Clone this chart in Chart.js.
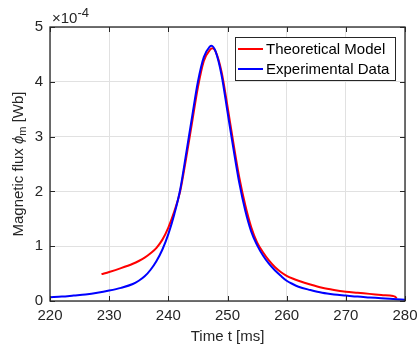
<!DOCTYPE html>
<html>
<head>
<meta charset="utf-8">
<script src="https://cdn.jsdelivr.net/npm/chart.js@4"></script>
<style>
  html, body { margin: 0; padding: 0; background: #fff; }
  #wrap { width: 417px; height: 349px; }
</style>
</head>
<body>
<div id="wrap"><canvas id="c" width="417" height="349"></canvas></div>
<script>
// values in units of 1e-4 Wb
const expTime = [220, 222, 224, 226, 228, 230, 232, 234, 235, 236, 237, 238, 239, 240, 241, 242, 243, 244, 245, 246, 247, 247.3, 248, 249, 250, 251, 252, 253, 254, 255, 256, 257, 258, 259, 260, 261, 262, 264, 266, 268, 270, 272, 274, 276, 278, 280];
const expFlux = [0.07, 0.08, 0.10, 0.12, 0.15, 0.19, 0.24, 0.31, 0.37, 0.45, 0.57, 0.73, 0.94, 1.22, 1.58, 2.03, 2.68, 3.35, 4.00, 4.45, 4.64, 4.66, 4.55, 4.12, 3.45, 2.78, 2.15, 1.65, 1.27, 1.02, 0.83, 0.68, 0.56, 0.46, 0.37, 0.31, 0.26, 0.20, 0.15, 0.12, 0.10, 0.08, 0.065, 0.05, 0.035, 0.025];

const modelTime = [228.7, 230, 232, 234, 235, 236, 237, 238, 239, 240, 241, 242, 243, 244, 245, 246, 247, 247.5, 248, 249, 250, 251, 252, 253, 254, 255, 256, 257, 258, 259, 260, 261, 262, 264, 266, 268, 270, 272, 274, 276, 278, 278.3, 278.6];
const modelFlux = [0.49, 0.53, 0.60, 0.68, 0.73, 0.79, 0.87, 0.97, 1.12, 1.34, 1.63, 2.00, 2.60, 3.25, 3.90, 4.38, 4.58, 4.61, 4.55, 4.18, 3.55, 2.88, 2.25, 1.75, 1.35, 1.07, 0.89, 0.74, 0.62, 0.53, 0.46, 0.41, 0.37, 0.30, 0.24, 0.20, 0.17, 0.15, 0.13, 0.11, 0.09, 0.08, 0.05];

const xTicks = [220, 230, 240, 250, 260, 270, 280];
const yTicks = [0, 1, 2, 3, 4, 5];

const FONT = '"Liberation Sans", Arial, Helvetica, sans-serif';
const INK = '#262626';

const pairs = (xs, ys) => xs.map((x, i) => ({ x: x, y: ys[i] }));

// MATLAB style frame, inward ticks, axis titles, exponent and legend
const matlabAxes = {
    id: 'matlabAxes',
    afterDraw(chart) {
        const ctx = chart.ctx;
        const a = chart.chartArea;
        const xs = chart.scales.x, ys = chart.scales.y;
        ctx.save();
        ctx.strokeStyle = INK;
        ctx.lineWidth = 1.3;
        ctx.strokeRect(a.left, a.top, a.right - a.left, a.bottom - a.top);
        ctx.lineWidth = 1;
        const tl = 5;
        xTicks.forEach(v => {
            const px = Math.round(xs.getPixelForValue(v)) + 0.5;
            ctx.beginPath();
            ctx.moveTo(px, a.bottom); ctx.lineTo(px, a.bottom - tl);
            ctx.moveTo(px, a.top); ctx.lineTo(px, a.top + tl);
            ctx.stroke();
        });
        yTicks.forEach(v => {
            const py = Math.round(ys.getPixelForValue(v)) + 0.5;
            ctx.beginPath();
            ctx.moveTo(a.left, py); ctx.lineTo(a.left + tl, py);
            ctx.moveTo(a.right, py); ctx.lineTo(a.right - tl, py);
            ctx.stroke();
        });

        ctx.fillStyle = INK;
        // x title
        ctx.font = '15px ' + FONT;
        ctx.textAlign = 'center';
        ctx.textBaseline = 'middle';
        ctx.fillText('Time t [ms]', (a.left + a.right) / 2, 337);

        // y title with italic phi and subscript m
        ctx.save();
        ctx.translate(18, (a.top + a.bottom) / 2);
        ctx.rotate(-Math.PI / 2);
        const p1 = 'Magnetic flux ', p2 = '\u03d5', p3 = 'm', p4 = ' [Wb]';
        ctx.font = '15px ' + FONT;
        const w1 = ctx.measureText(p1).width, w4 = ctx.measureText(p4).width;
        ctx.font = 'italic 15px ' + FONT;
        const w2 = ctx.measureText(p2).width;
        ctx.font = '11px ' + FONT;
        const w3 = ctx.measureText(p3).width;
        let x = -(w1 + w2 + w3 + w4) / 2;
        ctx.textAlign = 'left';
        ctx.textBaseline = 'alphabetic';
        ctx.font = '15px ' + FONT; ctx.fillText(p1, x, 5); x += w1;
        ctx.font = 'italic 15px ' + FONT; ctx.fillText(p2, x, 5); x += w2;
        ctx.font = '11px ' + FONT; ctx.fillText(p3, x, 8); x += w3;
        ctx.font = '15px ' + FONT; ctx.fillText(p4, x, 5);
        ctx.restore();

        // exponent
        ctx.textAlign = 'left';
        ctx.textBaseline = 'alphabetic';
        ctx.font = '15px ' + FONT;
        ctx.fillText('\u00d710', 52, 23);
        const wx = ctx.measureText('\u00d710').width;
        ctx.font = '13px ' + FONT;
        ctx.fillText('-4', 52 + wx, 17);

        // legend
        const bx = 235, by = 37, bw = 160, bh = 43;
        ctx.fillStyle = '#fff';
        ctx.fillRect(bx, by, bw, bh);
        ctx.strokeStyle = INK;
        ctx.lineWidth = 1;
        ctx.strokeRect(bx + 0.5, by + 0.5, bw, bh);
        const items = [chart.data.datasets[1], chart.data.datasets[0]];
        items.forEach((ds, i) => {
            const ly = 49 + i * 20;
            ctx.strokeStyle = ds.borderColor;
            ctx.lineWidth = 2;
            ctx.beginPath();
            ctx.moveTo(238, ly); ctx.lineTo(263, ly);
            ctx.stroke();
            ctx.fillStyle = '#000';
            ctx.font = '15px ' + FONT;
            ctx.textBaseline = 'middle';
            ctx.fillText(ds.label, 266, ly + 1);
        });
        ctx.restore();
    }
};

new Chart(document.getElementById('c'), {
    type: 'line',
    data: {
        datasets: [{
            label: 'Experimental Data',
            data: pairs(expTime, expFlux),
            borderColor: '#0000ff',
            borderWidth: 2,
            pointRadius: 0,
            fill: false,
            cubicInterpolationMode: 'monotone'
        }, {
            label: 'Theoretical Model',
            data: pairs(modelTime, modelFlux),
            borderColor: '#ff0000',
            borderWidth: 2,
            pointRadius: 0,
            fill: false,
            cubicInterpolationMode: 'monotone'
        }]
    },
    options: {
        responsive: false,
        animation: false,
        events: [],
        layout: { padding: { left: 0, top: 27, right: 12, bottom: 0 } },
        plugins: { legend: { display: false }, tooltip: { enabled: false } },
        scales: {
            x: {
                type: 'linear',
                min: 220, max: 280,
                afterBuildTicks: s => { s.ticks = xTicks.map(v => ({ value: v })); },
                afterFit: s => { s.height = 48; s.paddingLeft = 0; s.paddingRight = 0; },
                ticks: { color: INK, font: { family: FONT, size: 15 }, padding: 6, maxRotation: 0 },
                grid: { color: '#e1e1e1', drawTicks: false },
                border: { display: false }
            },
            y: {
                type: 'linear',
                min: 0, max: 5,
                afterBuildTicks: s => { s.ticks = yTicks.map(v => ({ value: v })); },
                afterFit: s => { s.width = 50; s.paddingTop = 0; s.paddingBottom = 0; },
                ticks: { color: INK, font: { family: FONT, size: 15 }, padding: 7 },
                grid: { color: '#e1e1e1', drawTicks: false },
                border: { display: false }
            }
        }
    },
    plugins: [matlabAxes]
});
</script>
</body>
</html>
